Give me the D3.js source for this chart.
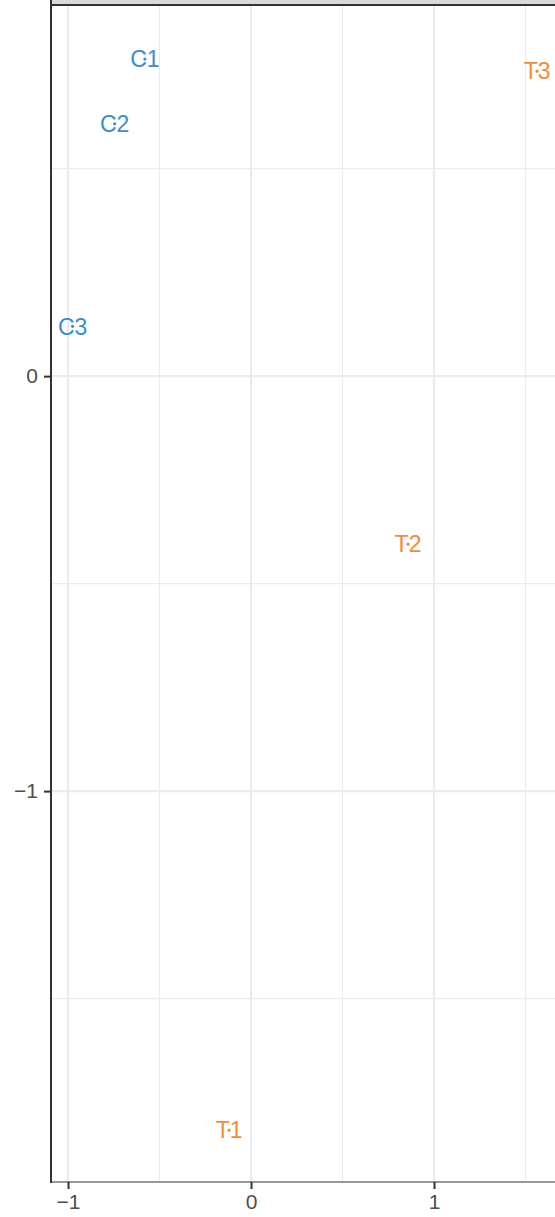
<!DOCTYPE html>
<html>
<head>
<meta charset="utf-8">
<script src="https://cdn.jsdelivr.net/npm/d3@7"></script>
<style>
  html, body { margin: 0; padding: 0; background: #fff; }
  svg { display: block; font-family: "Liberation Sans", Arial, sans-serif; }
</style>
</head>
<body>
<div id="chart"></div>
<script>
'use strict';

// samples and their scores (first two components)
const labels = ["C1", "C2", "C3", "T1", "T2", "T3"];
const groups = ["C", "C", "C", "T", "T", "T"];
const pc1 = [-0.58, -0.745, -0.975, -0.12, 0.858, 1.563];
const pc2 = [0.764, 0.608, 0.12, -1.817, -0.405, 0.735];

const xMajor = [-1, 0, 1];
const xMinor = [-0.5, 0.5, 1.5];
const yMajor = [-1, 0];
const yMinor = [-1.5, -0.5, 0.5];

const colors = { C: "#3b8dd0", T: "#f68b33" };

const data = labels.map((d, i) => ({ label: d, group: groups[i], x: pc1[i], y: pc2[i] }));

const width = 555, height = 1217;
const padding = { top: 6, right: 0, bottom: 35, left: 51 };
const innerWidth = width - padding.left - padding.right;
const innerHeight = height - padding.top - padding.bottom;

const svg = d3.select('#chart').append('svg')
  .attr('width', width)
  .attr('height', height);

// facet strip, cut off at the top
svg.append('rect')
  .attr('x', padding.left).attr('y', -20)
  .attr('width', innerWidth + 10).attr('height', 20 + padding.top - 1)
  .attr('fill', '#d9d9d9');

const g = svg.append('g')
  .attr('transform', 'translate(' + padding.left + ',' + padding.top + ')');

const x = d3.scaleLinear().domain([-1.093, 1.661]).range([0, innerWidth]);
const y = d3.scaleLinear().domain([-1.942, 0.892]).range([innerHeight, 0]);

// grid
function vlines(vals, w) {
  g.append('g').selectAll('line').data(vals).enter().append('line')
    .attr('x1', d => x(d)).attr('x2', d => x(d))
    .attr('y1', 0).attr('y2', innerHeight)
    .attr('stroke', '#ebebeb').attr('stroke-width', w);
}
function hlines(vals, w) {
  g.append('g').selectAll('line').data(vals).enter().append('line')
    .attr('x1', 0).attr('x2', innerWidth)
    .attr('y1', d => y(d)).attr('y2', d => y(d))
    .attr('stroke', '#ebebeb').attr('stroke-width', w);
}
vlines(xMinor, 1.1);
hlines(yMinor, 1.1);
vlines(xMajor, 2.2);
hlines(yMajor, 2.2);

// axes
const xAxis = d3.axisBottom(x).tickValues(xMajor).tickSize(7).tickPadding(5).tickFormat(d3.format('d'));
const yAxis = d3.axisLeft(y).tickValues(yMajor).tickSize(7).tickPadding(6).tickFormat(d3.format('d'));

const xTicks = g.append('g').attr('class', 'x axis')
  .attr('transform', 'translate(0,' + innerHeight + ')')
  .call(xAxis);
const yTicks = g.append('g').attr('class', 'y axis')
  .call(yAxis);

[xTicks, yTicks].forEach(a => {
  a.attr('font-family', null).attr('font-size', null);
  a.select('.domain').remove();
  a.selectAll('line').attr('stroke', '#333').attr('stroke-width', 2);
  a.selectAll('text').attr('fill', '#4d4d4d').style('font-size', '21px');
});

// axis lines + strip border
g.append('line').attr('x1', 0).attr('x2', 0).attr('y1', -padding.top).attr('y2', innerHeight + 1)
  .attr('stroke', '#333').attr('stroke-width', 2);
g.append('line').attr('x1', -1).attr('x2', innerWidth).attr('y1', innerHeight).attr('y2', innerHeight)
  .attr('stroke', '#333').attr('stroke-width', 1.2);
g.append('line').attr('x1', -1).attr('x2', innerWidth + 10).attr('y1', -1).attr('y2', -1)
  .attr('stroke', '#333').attr('stroke-width', 2);

// points and labels
const pts = g.append('g').selectAll('g.pt').data(data).enter()
  .append('g').attr('class', 'pt')
  .attr('transform', d => 'translate(' + x(d.x) + ',' + y(d.y) + ')');

pts.append('text')
  .attr('text-anchor', 'middle')
  .attr('dy', '0.36em')
  .style('font-size', '23px')
  .attr('fill', d => colors[d.group])
  .text(d => d.label);

pts.append('circle')
  .attr('r', 1.6)
  .attr('fill', d => colors[d.group]);
</script>
</body>
</html>
